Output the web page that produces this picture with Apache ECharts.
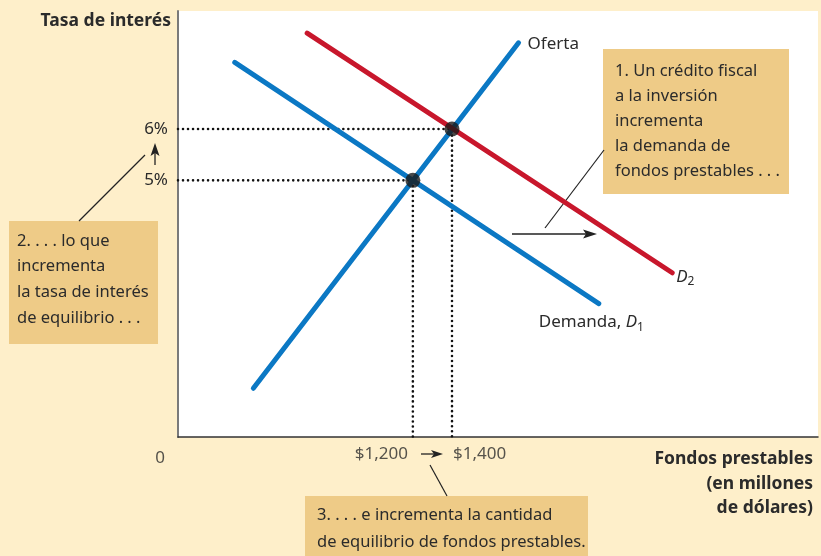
<!DOCTYPE html>
<html>
<head>
<meta charset="utf-8">
<script src="https://cdn.jsdelivr.net/npm/echarts@6/dist/echarts.min.js"></script>
<style>
  html, body { margin: 0; padding: 0; background: #feefca; }
  #chart { width: 821px; height: 556px; }
</style>
</head>
<body>
<div id="chart"></div>
<script>
// curve end points: [fondos prestables (millones $), tasa de interés %]
const supply = [[385, 0.95], [1740, 7.68]]
const demand1 = [[290, 7.3], [2150, 2.6]]
const demand2 = [[660, 7.87], [2525, 3.2]]
const equilibria = [[1200, 5], [1400, 6]]
const rateTicks = [5, 6]
const quantityTicks = [1200, 1400]
const quantityLabels = ['$1,200', '$1,400']

const FONT = 'Noto Sans'
const TXT = '#2b2b2b'
const BLUE = '#0b78c4'
const RED = '#c8172c'
const BOX = '#eecb87'

const chart = echarts.init(document.getElementById('chart'))

// dotted guides from the axes to each equilibrium point
const guides = equilibria.map(p => ({
  type: 'line',
  data: [[0, p[1]], [p[0], p[1]], [p[0], 0]],
  symbol: 'none',
  silent: true,
  z: 1,
  lineStyle: { color: '#111', width: 2.6, type: [0.01, 5], cap: 'round' }
}))

const curve = (data, color, label) => ({
  type: 'line',
  data: data,
  symbol: 'none',
  z: 3,
  lineStyle: { color: color, width: 5, cap: 'round' },
  endLabel: Object.assign({
    show: true,
    fontFamily: FONT,
    fontSize: 17,
    color: TXT,
    rich: {
      i: { fontFamily: FONT, fontSize: 17, fontStyle: 'italic', color: TXT },
      s: { fontFamily: FONT, fontSize: 12, color: TXT, padding: [10, 0, 0, 0] }
    }
  }, label)
})

const option = {
  backgroundColor: '#feefca',
  animation: false,
  grid: {
    left: 178, top: 11, right: 3, bottom: 119,
    show: true, backgroundColor: '#ffffff', borderWidth: 0
  },
  xAxis: {
    type: 'value',
    min: 0,
    max: 3270,
    axisLine: { show: true, lineStyle: { color: '#333', width: 1.5 } },
    axisTick: { show: false },
    axisLabel: { show: false },
    splitLine: { show: false }
  },
  yAxis: {
    type: 'value',
    min: 0,
    max: 8.3,
    axisLine: { show: true, lineStyle: { color: '#7a7a7a', width: 2 } },
    axisTick: { show: false },
    splitLine: { show: false },
    axisLabel: {
      customValues: rateTicks,
      formatter: '{value}%',
      margin: 10,
      fontFamily: FONT,
      fontSize: 17,
      color: TXT
    }
  },
  series: [
    ...guides,
    curve(supply, BLUE, { formatter: 'Oferta', distance: 9, offset: [0, 1] }),
    curve(demand1, BLUE, { formatter: 'Demanda, {i|D}{s|1}', distance: 0, offset: [-60, 19] }),
    curve(demand2, RED, { formatter: '{i|D}{s|2}', distance: 4, offset: [0, 4] }),
    {
      type: 'scatter',
      data: equilibria,
      symbolSize: 15,
      z: 5,
      itemStyle: { color: '#1a1a1a' }
    },
    {
      // quantity tick labels under the x axis
      type: 'scatter',
      symbolSize: 0,
      clip: false,
      silent: true,
      data: [
        { value: [0, 0], name: '0', label: { position: 'left', distance: 13, offset: [0, 21] } },
        { value: [quantityTicks[0], 0], name: quantityLabels[0], label: { position: 'left', distance: 5, offset: [0, 17] } },
        { value: [quantityTicks[1], 0], name: quantityLabels[1], label: { position: 'right', distance: 1, offset: [0, 17] } }
      ],
      label: {
        show: true,
        formatter: p => p.name,
        fontFamily: FONT,
        fontSize: 17,
        color: TXT
      }
    }
  ],
  graphic: [
    // axis titles
    { type: 'text', x: 171, y: 12, style: { text: 'Tasa de interés', font: 'bold 17.5px "Noto Sans"', fill: TXT, align: 'right' } },
    { type: 'text', x: 813, y: 447, style: { text: 'Fondos prestables\n(en millones\nde dólares)', font: 'bold 17.5px "Noto Sans"', fill: TXT, align: 'right', lineHeight: 24.5 } },

    // box 1
    { type: 'rect', shape: { x: 603, y: 49, width: 186, height: 145 }, style: { fill: BOX } },
    { type: 'text', x: 615, y: 59, style: { text: '1. Un crédito fiscal\na la inversión\nincrementa\nla demanda de\nfondos prestables . . .', font: '16.5px "Noto Sans"', fill: TXT, lineHeight: 25 } },
    { type: 'line', shape: { x1: 545, y1: 228, x2: 604, y2: 150 }, style: { stroke: '#222', lineWidth: 1.2 }, z: 2 },
    { type: 'line', shape: { x1: 512, y1: 234, x2: 590, y2: 234 }, style: { stroke: '#222', lineWidth: 1.3 } },
    { type: 'polygon', shape: { points: [[597, 234], [583, 229.5], [586, 234], [583, 238.5]] }, style: { fill: '#222' } },

    // box 2
    { type: 'rect', shape: { x: 9, y: 221, width: 149, height: 123 }, style: { fill: BOX } },
    { type: 'text', x: 17, y: 228, style: { text: '2. . . . lo que\nincrementa\nla tasa de interés\nde equilibrio . . .', font: '16.5px "Noto Sans"', fill: TXT, lineHeight: 25.7 } },
    { type: 'line', shape: { x1: 79, y1: 221, x2: 145, y2: 155 }, style: { stroke: '#222', lineWidth: 1.2 } },
    { type: 'line', shape: { x1: 155, y1: 150, x2: 155, y2: 165 }, style: { stroke: '#222', lineWidth: 1.3 } },
    { type: 'polygon', shape: { points: [[155, 143], [150.5, 156], [155, 153], [159.5, 156]] }, style: { fill: '#222' } },

    // box 3
    { type: 'rect', shape: { x: 305, y: 496, width: 283, height: 60 }, style: { fill: BOX } },
    { type: 'text', x: 317, y: 502, style: { text: '3. . . . e incrementa la cantidad\nde equilibrio de fondos prestables.', font: '16.5px "Noto Sans"', fill: TXT, lineHeight: 27 } },
    { type: 'line', shape: { x1: 447, y1: 496, x2: 430, y2: 465 }, style: { stroke: '#222', lineWidth: 1.2 } },
    { type: 'line', shape: { x1: 421, y1: 454, x2: 437, y2: 454 }, style: { stroke: '#222', lineWidth: 1.3 } },
    { type: 'polygon', shape: { points: [[443, 454], [431, 450], [434, 454], [431, 458]] }, style: { fill: '#222' } }
  ]
}

chart.setOption(option)
</script>
</body>
</html>
